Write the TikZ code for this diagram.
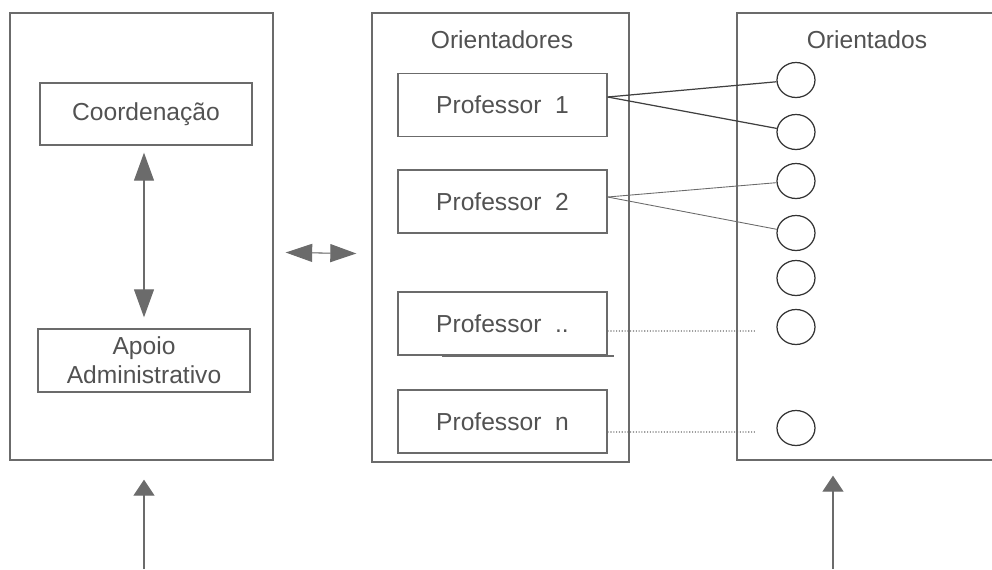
\documentclass[tikz,border=0pt]{standalone}
\usepackage{fontspec}
\setmainfont{Liberation Sans}
\usetikzlibrary{arrows.meta,shapes.geometric}
\definecolor{traco}{gray}{0.42}
\definecolor{texto}{gray}{0.32}
\begin{document}
\begin{tikzpicture}[x=0.02cm,y=-0.02cm]
	\tikzstyle{grupo}=[draw=traco, line width=0.8pt, minimum width=5.26cm, minimum height=8.94cm, inner sep=0pt]
	\tikzstyle{caixa}=[draw=traco, line width=0.8pt, minimum width=4.18cm, minimum height=1.26cm, text=texto, align=center, font=\fontsize{14}{16.5}\selectfont]
	\tikzstyle{titulo}=[text=texto, font=\fontsize{14}{16.5}\selectfont]
	\tikzstyle{aluno}=[ellipse, draw=black!80, line width=0.7pt, minimum width=0.76cm, minimum height=0.7cm, inner sep=0pt]
	\tikzstyle{seta}=[draw=traco, fill=traco, line width=0.6pt, {Triangle[length=0.56cm,width=0.4cm]}-{Triangle[length=0.56cm,width=0.4cm]}]
	\tikzstyle{setap}=[draw=traco, fill=traco, line width=0.6pt, {Triangle[length=0.53cm,width=0.36cm]}-{Triangle[length=0.52cm,width=0.36cm]}]
	\tikzstyle{setab}=[draw=traco, fill=traco, line width=0.6pt, -{Triangle[length=0.32cm,width=0.42cm]}]
	\tikzstyle{ligacao}=[draw=black!75, line width=0.7pt]
	\tikzstyle{pontilhado}=[draw=traco, line width=0.6pt, densely dotted]

	\useasboundingbox (0,0) rectangle (992,569);

	% Grupos
	\node at (141.5,236.5) [grupo] (admin) {};
	\node at (500.5,237.5) [grupo, minimum width=5.14cm, minimum height=8.98cm] (orientadores) {};
	\node at (872,236.5) [grupo, minimum width=5.4cm] (orientados) {};
	\node at (502,40) [titulo] (titorientadores) {Orientadores};
	\node at (867,40) [titulo] (titorientados) {Orientados};

	% Administracao
	\node at (146,114) [caixa, minimum width=4.24cm, minimum height=1.24cm] (coord) {Coordenação};
	\node at (144,360.5) [caixa, minimum width=4.24cm] (apoio) {Apoio\\Administrativo};
	\draw [seta, shorten <=0.14cm, shorten >=0.22cm] (apoio.north |- coord.south) to (apoio.north);

	% Professores
	\node at (502.5,105) [caixa] (prof1) {Professor\ \ 1};
	\node at (502.5,201.5) [caixa] (prof2) {Professor\ \ 2};
	\node at (502.5,323.5) [caixa] (prof3) {Professor\ \ ..};
	\node at (502.5,421.5) [caixa] (profn) {Professor\ \ n};
	\draw [traco, line width=1.4pt] (442,356) -- (614,356);

	% Alunos
	\node at (796,80) [aluno] (al1) {};
	\node at (796,132) [aluno] (al2) {};
	\node at (796,181) [aluno] (al3) {};
	\node at (796,233) [aluno] (al4) {};
	\node at (796,278) [aluno] (al5) {};
	\node at (796,327) [aluno] (al6) {};
	\node at (796,428) [aluno] (al7) {};

	\draw [ligacao] ([shift={(0,-8)}]prof1.east) to (al1);
	\draw [ligacao] ([shift={(0,-8)}]prof1.east) to (al2);
	\draw [ligacao, draw=traco, line width=0.5pt] ([shift={(0,-4.5)}]prof2.east) to (al3);
	\draw [ligacao, draw=traco, line width=0.5pt] ([shift={(0,-4.5)}]prof2.east) to (al4);

	\coordinate (fim3) at (756,331);
	\coordinate (fimn) at (756,432);
	\draw [pontilhado] ([shift={(0,7.5)}]prof3.east) to (fim3);
	\draw [pontilhado] ([shift={(0,10.5)}]profn.east) to (fimn);

	% Ligacoes entre grupos
	\draw [setap] ([shift={(12,16)}]admin.east) to ([shift={(-15,16)}]orientadores.west);
	\coordinate (base1) at (144,569);
	\coordinate (base2) at (833,569);
	\draw [setab, shorten >=0.38cm] (base1) to (base1 |- admin.south);
	\draw [setab, shorten >=0.3cm] (base2) to (base2 |- orientados.south);
\end{tikzpicture}
\end{document}
